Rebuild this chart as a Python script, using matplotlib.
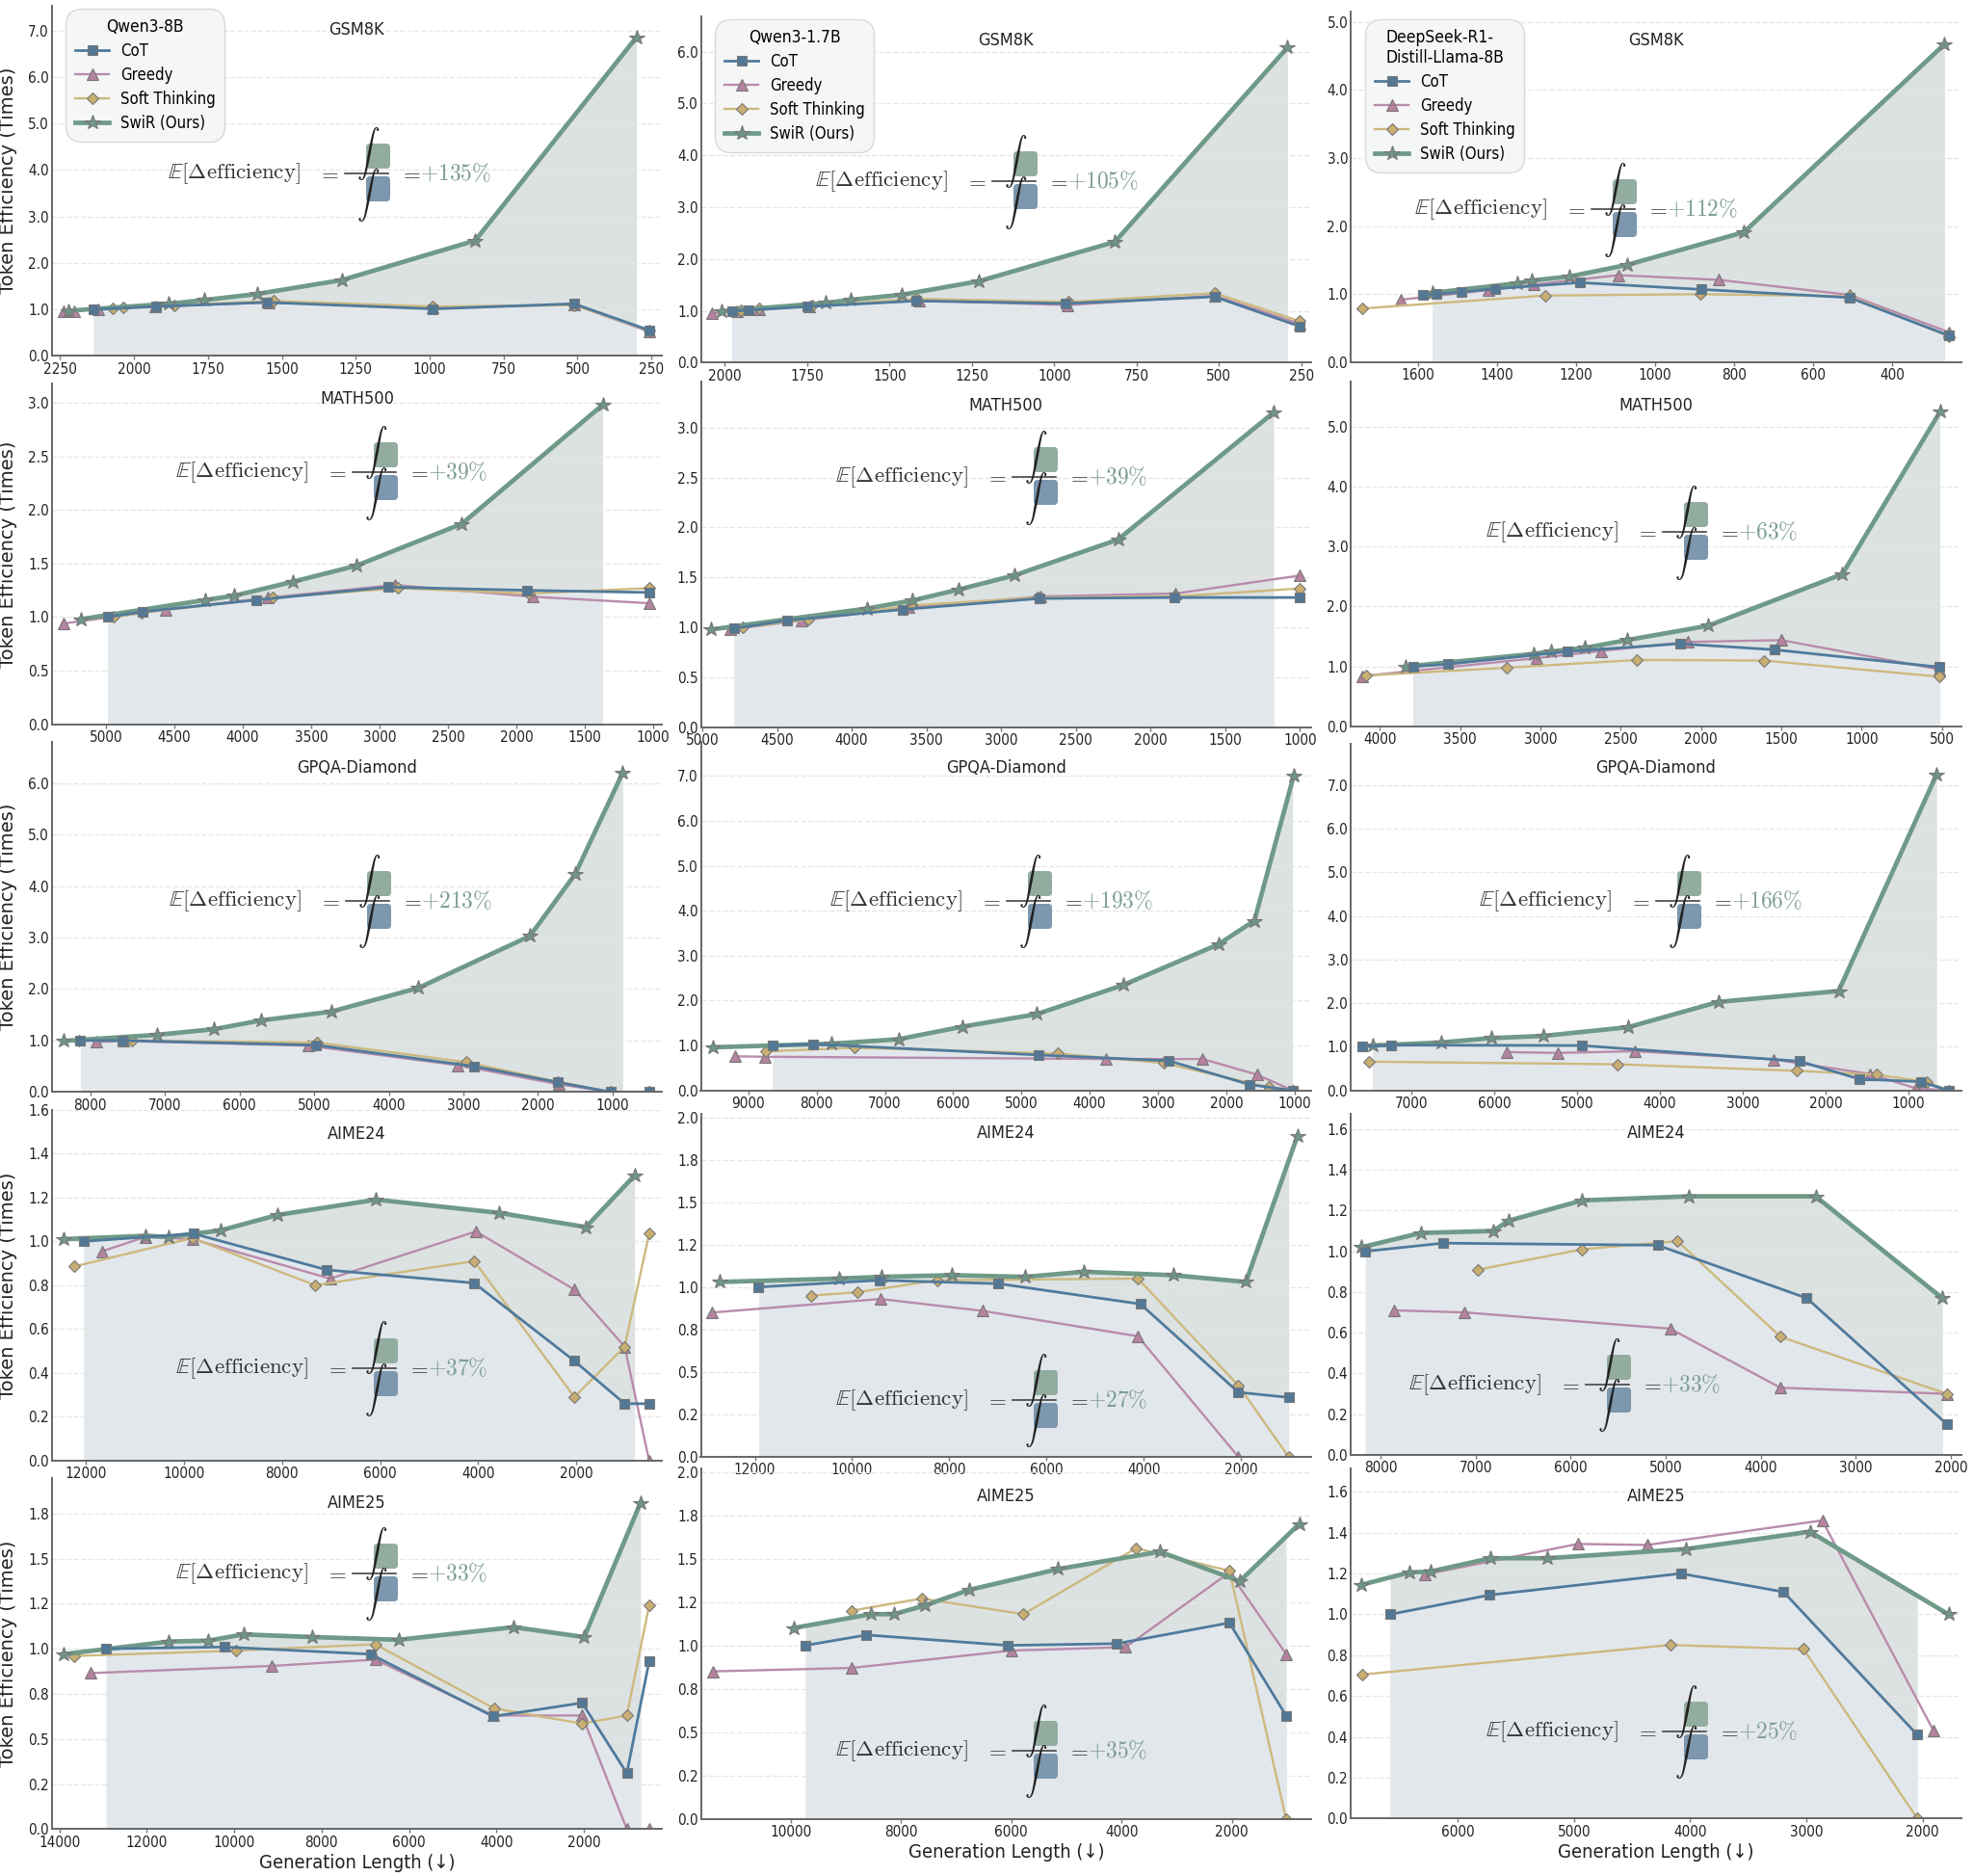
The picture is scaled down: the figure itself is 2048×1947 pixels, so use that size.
import numpy as np
import matplotlib
matplotlib.use("Agg")
import matplotlib.pyplot as plt
from matplotlib.font_manager import FontProperties
from matplotlib.lines import Line2D
from matplotlib.patches import FancyBboxPatch
from matplotlib.transforms import Affine2D

# values, each series is [lengths, efficiencies]
q8_gsm_cot = [[2137, 1927, 1552, 989, 512, 257], [1.0, 1.06, 1.15, 1.01, 1.12, 0.55]]
q8_gsm_greedy = [[2240, 2202, 2122, 1930, 1545, 989, 512, 257], [0.95, 0.97, 1.0, 1.06, 1.15, 1.04, 1.1, 0.52]]
q8_gsm_soft = [[2073, 2035, 1865, 1527, 989, 512, 257], [1.03, 1.05, 1.09, 1.18, 1.06, 1.09, 0.54]]
q8_gsm_swir = [[2221, 1882, 1763, 1585, 1297, 846, 301], [0.97, 1.12, 1.2, 1.33, 1.63, 2.48, 6.85]]

q17_gsm_cot = [[1979, 1927, 1750, 1418, 965, 513, 256], [1.0, 1.01, 1.08, 1.19, 1.14, 1.27, 0.7]]
q17_gsm_greedy = [[2038, 1964, 1895, 1745, 1410, 959, 513, 256], [0.95, 1.0, 1.03, 1.09, 1.2, 1.11, 1.29, 0.75]]
q17_gsm_soft = [[1952, 1895, 1735, 1418, 958, 513, 256], [1.01, 1.04, 1.1, 1.23, 1.17, 1.34, 0.8]]
q17_gsm_swir = [[2010, 1695, 1619, 1462, 1229, 816, 292], [0.99, 1.15, 1.21, 1.31, 1.57, 2.33, 6.08]]

ds_gsm_cot = [[1588, 1554, 1491, 1405, 1190, 884, 508, 255], [0.99, 1.0, 1.03, 1.08, 1.17, 1.07, 0.95, 0.39]]
ds_gsm_greedy = [[1643, 1422, 1307, 1093, 838, 508, 255], [0.92, 1.06, 1.14, 1.28, 1.21, 0.99, 0.44]]
ds_gsm_soft = [[1742, 1279, 886, 508, 255], [0.79, 0.98, 1.0, 0.97, 0.38]]
ds_gsm_swir = [[1564, 1349, 1312, 1217, 1071, 775, 267], [1.02, 1.16, 1.2, 1.26, 1.43, 1.91, 4.67]]

q8_math_cot = [[4987, 4730, 3901, 2940, 1926, 1031], [1.0, 1.05, 1.16, 1.28, 1.25, 1.23]]
q8_math_greedy = [[5311, 4564, 3819, 2890, 1879, 1031], [0.94, 1.07, 1.18, 1.3, 1.19, 1.13]]
q8_math_soft = [[4940, 4736, 3779, 2868, 1910, 1031], [1.0, 1.04, 1.18, 1.27, 1.22, 1.27]]
q8_math_swir = [[5185, 4272, 4061, 3634, 3170, 2400, 1371], [0.98, 1.16, 1.2, 1.33, 1.48, 1.87, 2.98]]

q17_math_cot = [[4787, 4434, 3662, 2746, 1840, 1000], [0.99, 1.07, 1.18, 1.29, 1.3, 1.3]]
q17_math_greedy = [[4812, 4333, 3620, 2738, 1831, 1000], [0.98, 1.07, 1.2, 1.31, 1.34, 1.52]]
q17_math_soft = [[4728, 4291, 3603, 2755, 1840, 1000], [1.0, 1.08, 1.22, 1.3, 1.31, 1.39]]
q17_math_swir = [[4941, 3897, 3594, 3284, 2914, 2217, 1176], [0.98, 1.19, 1.27, 1.38, 1.52, 1.88, 3.15]]

ds_math_cot = [[3795, 3575, 2830, 2133, 1543, 513], [1.0, 1.04, 1.25, 1.38, 1.28, 0.99]]
ds_math_greedy = [[4113, 3025, 2623, 2083, 1500, 513], [0.84, 1.14, 1.26, 1.41, 1.44, 0.95]]
ds_math_soft = [[4085, 3208, 2398, 1608, 513], [0.85, 0.98, 1.11, 1.1, 0.83]]
ds_math_swir = [[3838, 3045, 2933, 2725, 2463, 1955, 1120, 510], [1.0, 1.21, 1.25, 1.31, 1.44, 1.68, 2.54, 5.25]]

q8_gpqa_cot = [[8132, 7568, 4970, 2862, 1739, 1029, 510], [1.0, 1.0, 0.91, 0.5, 0.19, 0.0, 0.0]]
q8_gpqa_greedy = [[7914, 7556, 5085, 3074, 1722, 1029, 510], [0.97, 0.99, 0.9, 0.52, 0.15, 0.0, 0.0]]
q8_gpqa_soft = [[8155, 7441, 4964, 2960, 1739, 1029, 510], [1.0, 1.0, 0.96, 0.58, 0.2, 0.0, 0.0]]
q8_gpqa_swir = [[8363, 7107, 6341, 5713, 4774, 3605, 2108, 1503, 865], [0.99, 1.11, 1.22, 1.39, 1.56, 2.02, 3.03, 4.23, 6.2]]

q17_gpqa_cot = [[8643, 8047, 4754, 2842, 1655, 1029], [1.0, 1.03, 0.79, 0.66, 0.13, 0.0]]
q17_gpqa_greedy = [[9199, 8760, 3766, 2345, 1544, 1029], [0.76, 0.75, 0.7, 0.7, 0.35, 0.0]]
q17_gpqa_soft = [[8737, 7450, 4468, 2918, 1380, 1029], [0.87, 0.95, 0.82, 0.61, 0.07, 0.0]]
q17_gpqa_swir = [[9526, 7784, 6801, 5865, 4772, 3503, 2117, 1587, 1012], [0.96, 1.04, 1.14, 1.42, 1.7, 2.35, 3.25, 3.78, 7.0]]

ds_gpqa_cot = [[7596, 7237, 4947, 2317, 1591, 850, 516], [1.0, 1.04, 1.03, 0.67, 0.26, 0.2, 0.0]]
ds_gpqa_greedy = [[5852, 5232, 4298, 2627, 1470, 913, 516], [0.88, 0.86, 0.9, 0.71, 0.38, 0.05, 0.0]]
ds_gpqa_soft = [[7508, 4511, 2346, 1384, 784, 516], [0.66, 0.6, 0.45, 0.36, 0.2, 0.0]]
ds_gpqa_swir = [[7465, 6637, 6036, 5407, 4385, 3295, 1843, 661], [1.03, 1.1, 1.2, 1.25, 1.45, 2.03, 2.28, 7.25]]

q8_a24_cot = [[12044, 9807, 7088, 4079, 2035, 1009, 509], [1.0, 1.035, 0.87, 0.81, 0.455, 0.26, 0.26]]
q8_a24_greedy = [[11667, 10790, 9833, 7018, 4044, 2035, 1009, 509], [0.955, 1.02, 1.01, 0.83, 1.045, 0.78, 0.52, 0.0]]
q8_a24_soft = [[12246, 9833, 7325, 4079, 2035, 1009, 509], [0.885, 1.015, 0.8, 0.91, 0.29, 0.52, 1.035]]
q8_a24_swir = [[12465, 10789, 10316, 9254, 8096, 6079, 3579, 1798, 807], [1.01, 1.025, 1.02, 1.05, 1.12, 1.19, 1.13, 1.065, 1.3]]

q17_a24_cot = [[11922, 9442, 6987, 4067, 2052, 1018], [1.0, 1.04, 1.02, 0.9, 0.38, 0.35]]
q17_a24_greedy = [[12879, 9416, 7323, 4119, 2052], [0.85, 0.93, 0.86, 0.71, 0.0]]
q17_a24_soft = [[10837, 9881, 8253, 4119, 2052, 1018], [0.95, 0.97, 1.04, 1.05, 0.42, 0.0]]
q17_a24_swir = [[12723, 10269, 9390, 7943, 6444, 5230, 3395, 1897, 837], [1.03, 1.05, 1.06, 1.07, 1.06, 1.09, 1.07, 1.03, 1.89]]

ds_a24_cot = [[8161, 7343, 5087, 3517, 2040], [1.0, 1.04, 1.03, 0.77, 0.15]]
ds_a24_greedy = [[7858, 7119, 4955, 3794, 2040], [0.71, 0.7, 0.62, 0.33, 0.3]]
ds_a24_soft = [[6974, 5879, 4876, 3794, 2040], [0.91, 1.01, 1.05, 0.58, 0.3]]
ds_a24_swir = [[8200, 7580, 6815, 6657, 5879, 4757, 3425, 2092], [1.02, 1.09, 1.1, 1.15, 1.25, 1.27, 1.27, 0.77]]

q8_a25_cot = [[12928, 10213, 6879, 4075, 2039, 1016, 505], [1.0, 1.01, 0.97, 0.625, 0.7, 0.31, 0.93]]
q8_a25_greedy = [[13292, 9141, 6771, 4075, 2039, 1016, 505], [0.865, 0.905, 0.94, 0.63, 0.63, 0.0, 0.0]]
q8_a25_soft = [[13666, 9947, 6771, 4055, 2039, 1016, 505], [0.96, 0.99, 1.025, 0.67, 0.585, 0.63, 1.24]]
q8_a25_swir = [[13911, 11492, 10597, 9790, 8207, 6240, 3604, 1990, 702], [0.97, 1.04, 1.045, 1.08, 1.065, 1.05, 1.12, 1.065, 1.81]]

q17_a25_cot = [[9732, 8624, 6068, 4085, 2043, 1015], [1.0, 1.06, 1.0, 1.01, 1.13, 0.595]]
q17_a25_greedy = [[11419, 8892, 6003, 3925, 2043, 1015], [0.85, 0.87, 0.97, 0.99, 1.42, 0.95]]
q17_a25_soft = [[8899, 7625, 5778, 3736, 2043, 1015], [1.2, 1.27, 1.18, 1.56, 1.43, 0.0]]
q17_a25_swir = [[9949, 8545, 8125, 7567, 6763, 5149, 3303, 1855, 776], [1.1, 1.18, 1.18, 1.23, 1.32, 1.44, 1.54, 1.37, 1.7]]

ds_a25_cot = [[6581, 5724, 4082, 3197, 2047], [1.0, 1.095, 1.2, 1.11, 0.41]]
ds_a25_greedy = [[6287, 4968, 4369, 2864, 1907], [1.195, 1.345, 1.34, 1.46, 0.43]]
ds_a25_soft = [[6824, 4168, 3025, 2047], [0.705, 0.85, 0.83, 0.0]]
ds_a25_swir = [[6828, 6419, 6233, 5720, 5229, 4036, 2971, 1778], [1.145, 1.205, 1.21, 1.275, 1.275, 1.32, 1.405, 1.0]]

datasets = ["GSM8K", "MATH500", "GPQA-Diamond", "AIME24", "AIME25"]
models = ["Qwen3-8B", "Qwen3-1.7B", "DeepSeek-R1-\nDistill-Llama-8B"]
methods = ["CoT", "Greedy", "Soft Thinking", "SwiR (Ours)"]
gains = [["+135", "+105", "+112"], ["+39", "+39", "+63"], ["+213", "+193", "+166"],
         ["+37", "+27", "+33"], ["+33", "+35", "+25"]]

series = [
    [(q8_gsm_cot, q8_gsm_greedy, q8_gsm_soft, q8_gsm_swir),
     (q17_gsm_cot, q17_gsm_greedy, q17_gsm_soft, q17_gsm_swir),
     (ds_gsm_cot, ds_gsm_greedy, ds_gsm_soft, ds_gsm_swir)],
    [(q8_math_cot, q8_math_greedy, q8_math_soft, q8_math_swir),
     (q17_math_cot, q17_math_greedy, q17_math_soft, q17_math_swir),
     (ds_math_cot, ds_math_greedy, ds_math_soft, ds_math_swir)],
    [(q8_gpqa_cot, q8_gpqa_greedy, q8_gpqa_soft, q8_gpqa_swir),
     (q17_gpqa_cot, q17_gpqa_greedy, q17_gpqa_soft, q17_gpqa_swir),
     (ds_gpqa_cot, ds_gpqa_greedy, ds_gpqa_soft, ds_gpqa_swir)],
    [(q8_a24_cot, q8_a24_greedy, q8_a24_soft, q8_a24_swir),
     (q17_a24_cot, q17_a24_greedy, q17_a24_soft, q17_a24_swir),
     (ds_a24_cot, ds_a24_greedy, ds_a24_soft, ds_a24_swir)],
    [(q8_a25_cot, q8_a25_greedy, q8_a25_soft, q8_a25_swir),
     (q17_a25_cot, q17_a25_greedy, q17_a25_soft, q17_a25_swir),
     (ds_a25_cot, ds_a25_greedy, ds_a25_soft, ds_a25_swir)],
]

# axis ranges and ticks for each panel
xlims = [[(2279, 214), (2073, 220), (1771, 225)],
         [(5396, 937), (5010, 924), (4183, 380)],
         [(8518, 338), (9696, 754), (7731, 366)],
         [(12702, 246), (13111, 553), (8316, 1894)],
         [(14177, 210), (11629, 559), (6921, 1670)]]
xticks = [[np.arange(250, 2251, 250), np.arange(250, 2001, 250), np.arange(400, 1601, 200)],
          [np.arange(1000, 5001, 500), np.arange(1000, 5001, 500), np.arange(500, 4001, 500)],
          [np.arange(1000, 8001, 1000), np.arange(1000, 9001, 1000), np.arange(1000, 7001, 1000)],
          [np.arange(2000, 12001, 2000), np.arange(2000, 12001, 2000), np.arange(2000, 8001, 1000)],
          [np.arange(2000, 14001, 2000), np.arange(2000, 10001, 2000), np.arange(2000, 6001, 1000)]]
ymaxs = [[7.53, 6.68, 5.15], [3.18, 3.46, 5.75], [6.8, 7.76, 7.95], [1.6, 2.02, 1.675], [1.947, 2.02, 1.715]]
yticks = [[np.arange(0, 7.1, 1), np.arange(0, 6.1, 1), np.arange(0, 5.1, 1)],
          [np.arange(0, 3.1, 0.5), np.arange(0, 3.1, 0.5), np.arange(0, 5.1, 1)],
          [np.arange(0, 6.1, 1), np.arange(0, 7.1, 1), np.arange(0, 7.1, 1)],
          [np.arange(0, 1.61, 0.2), np.arange(0, 2.01, 0.25), np.arange(0, 1.61, 0.2)],
          [np.arange(0, 1.76, 0.25), np.arange(0, 2.01, 0.25), np.arange(0, 1.61, 0.2)]]

# layout in reference pixels
W, H = 2048, 1947
col_left = [53.6, 727.5, 1402]
col_width = 633.6
ax_bottom = [[369.3, 376.3, 376], [751.7, 755, 754], [1133.3, 1131.7, 1131.7], [1516, 1512, 1510], [1898.3, 1887.7, 1887.3]]
ax_top = [[6, 17, 12], [398, 396, 396], [770, 770, 772], [1151.7, 1156, 1156], [1534, 1524, 1524]]
title_y = [[31, 42, 42], [414, 421, 421], [797, 797, 797], [1177, 1176, 1176], [1560, 1553, 1553]]
formula_x = [[174, 846, 1468], [182, 867, 1542], [175, 861, 1535], [182, 867, 1462], [182, 867, 1542]]
formula_y = [[180, 188, 217], [490, 495, 552], [935, 935, 935], [1420, 1453, 1437], [1633, 1817, 1797]]
legend_xy = [(68, 9), (742, 20), (1417, 20)]

CLR = ["#4f7a9c", "#b98bab", "#cdb97f", "#6f9a87"]
FACE = ["#537895", "#b5829f", "#c9ae72", "#6f9685"]
MARK = ["s", "^", "D", "*"]
MSIZE = [7.4, 8.4, 6.2, 11.5]
LW = [2.0, 1.7, 1.7, 3.4]
DRAW_ORDER = [1, 2, 3, 0]
FILL_SWIR = "#dce2e1"
FILL_COT = "#e2e7ec"

plt.rcParams["font.family"] = "DejaVu Sans"
plt.rcParams["mathtext.fontset"] = "cm"
narrow = dict(fontstretch="condensed")

fig = plt.figure(figsize=(W / 100, H / 100), dpi=100, facecolor="white")
px = Affine2D().scale(1 / W, -1 / H).translate(0, 1) + fig.transFigure


def put_formula(x0, yc, gain):
    # E[...] = (integral green) / (integral blue) = +gain%
    fig.text(x0, yc, r"$\mathbb{E}[\Delta\mathrm{efficiency}]$", transform=px, fontsize=16.5,
             ha="left", va="center", color="#333333", zorder=20)
    fig.text(x0 + 155, yc, r"$=$", transform=px, fontsize=16.5, ha="left", va="center", color="#333333", zorder=20)
    fig.text(x0 + 196, yc - 21, r"$\int$", transform=px, fontsize=17, ha="left", va="center", color="#222222", zorder=20)
    fig.text(x0 + 196, yc + 22, r"$\int$", transform=px, fontsize=17, ha="left", va="center", color="#222222", zorder=20)
    fig.add_artist(Line2D([x0 + 184, x0 + 229], [yc, yc], transform=px, color="#444444", lw=1.2, zorder=20))
    for top, clr in ((yc - 29, "#92ad9f"), (yc + 5, "#7c97ae")):
        fig.add_artist(FancyBboxPatch((x0 + 208, top), 21, 22, boxstyle="round,pad=2,rounding_size=4",
                                      transform=px, fc=clr, ec="none", zorder=20))
    fig.text(x0 + 240, yc, r"$=$", transform=px, fontsize=16.5, ha="left", va="center", color="#333333", zorder=20)
    fig.text(x0 + 262, yc, r"$\mathbf{" + gain + r"\%}$", transform=px, fontsize=17, ha="left", va="center",
             color="#7d9f90", zorder=20)


for r in range(5):
    for c in range(3):
        top, bottom = ax_top[r][c], ax_bottom[r][c]
        ax = fig.add_axes([col_left[c] / W, 1 - bottom / H, col_width / W, (bottom - top) / H], facecolor="none")

        cot_x, cot_y = series[r][c][0]
        swir_x, swir_y = series[r][c][3]
        # shaded over the lengths both CoT and SwiR cover
        lo, hi = max(min(cot_x), min(swir_x)), min(max(cot_x), max(swir_x))
        grid_x = np.union1d(cot_x, swir_x)
        grid_x = np.union1d(grid_x[(grid_x >= lo) & (grid_x <= hi)], [lo, hi])
        ax.fill_between(grid_x, 0, np.interp(grid_x, swir_x[::-1], swir_y[::-1]), color=FILL_SWIR, lw=0)
        ax.fill_between(grid_x, 0, np.interp(grid_x, cot_x[::-1], cot_y[::-1]), color=FILL_COT, lw=0)

        handles = {}
        for i in DRAW_ORDER:
            xs, ys = series[r][c][i]
            handles[i], = ax.plot(xs, ys, color=CLR[i], lw=LW[i], marker=MARK[i], ms=MSIZE[i],
                                  mfc=FACE[i], mec="#777777", mew=0.8, label=methods[i])

        ax.set_xlim(*xlims[r][c])
        ax.set_ylim(0, ymaxs[r][c])
        ax.set_xticks(xticks[r][c])
        ax.set_yticks(yticks[r][c])
        ax.set_yticklabels(["%.1f" % v for v in yticks[r][c]], color="#222222", fontsize=11, **narrow)
        ax.set_xticklabels(["%d" % v for v in xticks[r][c]], color="#222222", fontsize=11, **narrow)
        ax.tick_params(axis="y", length=0, pad=2)
        ax.tick_params(axis="x", length=3, pad=1.5, width=1, color="#777777")
        ax.grid(axis="y", ls="--", color="#e6e6e6", lw=1)
        ax.spines[["top", "right"]].set_visible(False)
        ax.spines[["left", "bottom"]].set_color("#666666")
        ax.spines[["left", "bottom"]].set_linewidth(1.4)

        fig.text(col_left[c] + col_width / 2, title_y[r][c], datasets[r], transform=px, ha="center", va="center",
                 fontsize=13, color="#222222", zorder=20, **narrow)

        if c == 0:
            ax.set_ylabel("Token Efficiency (Times)", fontsize=14, color="#222222")
            ax.yaxis.set_label_coords(-0.056, 0.5)
        if r == 4:
            ax.set_xlabel("Generation Length (\u2193)", fontsize=14.5, color="#222222", labelpad=3, **narrow)
        if r == 0:
            lx, ly = legend_xy[c]
            leg = ax.legend([handles[i] for i in range(4)], methods, title=models[c], loc="upper left",
                            bbox_to_anchor=((lx - col_left[c]) / col_width, (bottom - ly) / (bottom - top)),
                            borderaxespad=0, fancybox=True, framealpha=0.95, facecolor="#f5f7f6",
                            edgecolor="#d6d6d6", prop=FontProperties(size=12, stretch="condensed"),
                            title_fontproperties=FontProperties(size=12.5, stretch="condensed"),
                            labelspacing=0.42, handlelength=2.1, handletextpad=0.7, borderpad=0.6)
            leg.get_frame().set_boxstyle("round", pad=0, rounding_size=1.0)
            leg.set_zorder(30)

        put_formula(formula_x[r][c], formula_y[r][c], gains[r][c])

fig.savefig("out.png", dpi=100)
